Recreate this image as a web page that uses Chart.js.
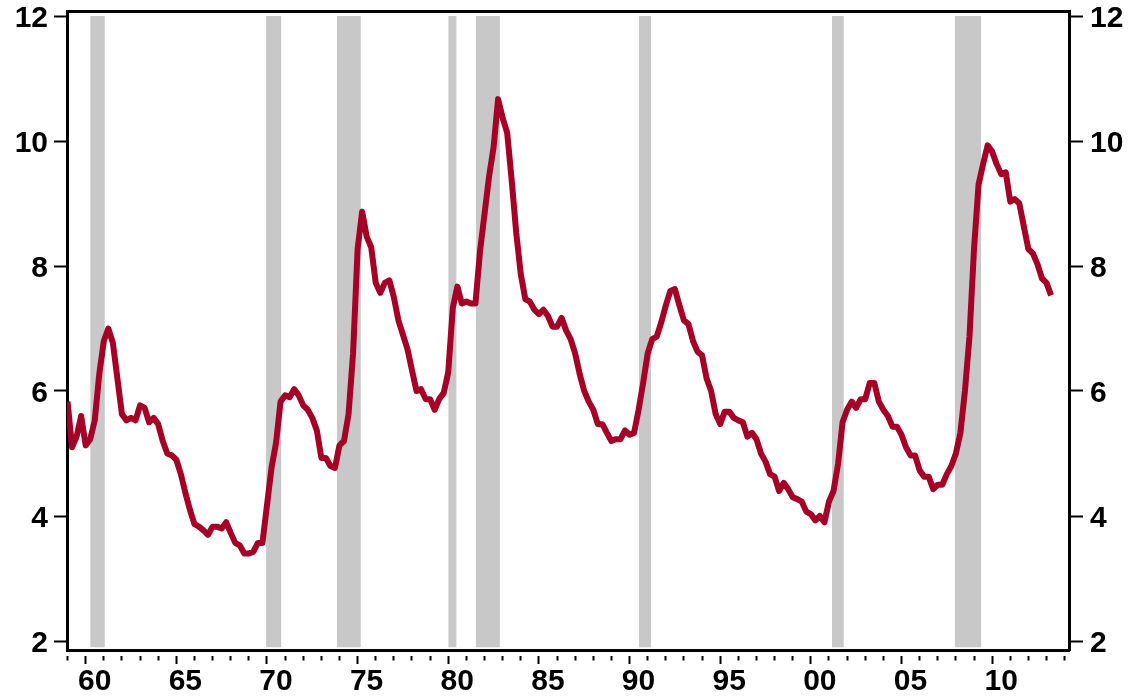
<!DOCTYPE html>
<html lang="en">
<head>
    <meta charset="UTF-8">
    <title>Unemployment Rate</title>
    <script src="https://cdn.jsdelivr.net/npm/chart.js"></script>
    <style>
        body { margin: 0; background: #fff; }
        .chart-container { position: relative; width: 1128px; height: 699px; }
    </style>
</head>
<body>
    <div class="chart-container">
        <canvas id="rateChart"></canvas>
    </div>

    <script>
        // quarterly unemployment rate, %, first quarter of 1959 onwards
        const firstYear = 1959;
        const rate1959 = [5.83, 5.10, 5.27, 5.60];
        const rate1960s = [
            5.13, 5.23, 5.53, 6.27,  6.80, 7.00, 6.77, 6.20,
            5.63, 5.53, 5.57, 5.53,  5.77, 5.73, 5.50, 5.57,
            5.47, 5.20, 5.00, 4.97,  4.90, 4.67, 4.37, 4.10,
            3.87, 3.83, 3.77, 3.70,  3.83, 3.83, 3.80, 3.90,
            3.73, 3.57, 3.53, 3.40,  3.40, 3.43, 3.57, 3.57
        ];
        const rate1970s = [
            4.17, 4.77, 5.17, 5.83,  5.93, 5.90, 6.03, 5.93,
            5.77, 5.70, 5.57, 5.37,  4.93, 4.93, 4.80, 4.77,
            5.13, 5.20, 5.63, 6.60,  8.27, 8.87, 8.47, 8.30,
            7.73, 7.57, 7.73, 7.77,  7.50, 7.13, 6.90, 6.67,
            6.33, 6.00, 6.03, 5.87,  5.87, 5.70, 5.87, 5.97
        ];
        const rate1980s = [
            6.30, 7.33, 7.67, 7.40,  7.43, 7.40, 7.40, 8.23,
            8.83, 9.43, 9.90, 10.67, 10.37, 10.13, 9.37, 8.53,
            7.87, 7.47, 7.43, 7.30,  7.23, 7.30, 7.20, 7.03,
            7.03, 7.17, 6.97, 6.83,  6.60, 6.27, 6.00, 5.83,
            5.70, 5.47, 5.47, 5.33,  5.20, 5.23, 5.23, 5.37
        ];
        const rate1990s = [
            5.30, 5.33, 5.70, 6.13,  6.60, 6.83, 6.87, 7.10,
            7.37, 7.60, 7.63, 7.37,  7.13, 7.07, 6.80, 6.63,
            6.57, 6.20, 6.00, 5.63,  5.47, 5.67, 5.67, 5.57,
            5.53, 5.50, 5.27, 5.33,  5.23, 5.00, 4.87, 4.67,
            4.63, 4.40, 4.53, 4.43,  4.30, 4.27, 4.23, 4.07
        ];
        const rate2000s = [
            4.03, 3.93, 4.00, 3.90,  4.23, 4.40, 4.83, 5.50,
            5.70, 5.83, 5.73, 5.87,  5.87, 6.13, 6.13, 5.83,
            5.70, 5.60, 5.43, 5.43,  5.30, 5.10, 4.97, 4.97,
            4.73, 4.63, 4.63, 4.43,  4.50, 4.50, 4.67, 4.80,
            5.00, 5.33, 6.00, 6.87,  8.27, 9.30, 9.63, 9.93
        ];
        const rate2010s = [
            9.83, 9.63, 9.47, 9.50,  9.03, 9.07, 9.00, 8.63,
            8.27, 8.20, 8.03, 7.80,  7.73, 7.53
        ];

        // recession periods (decimal years)
        const recessionStart = [1960.25, 1969.95, 1973.85, 1980.0, 1981.52, 1990.52, 2001.16, 2007.94];
        const recessionEnd   = [1961.06, 1970.80, 1975.18, 1980.46, 1982.85, 1991.19, 2001.82, 2009.40];
        const shadeTop = 12.0;
        const shadeBottom = 1.9;

        const yTicks = [2, 4, 6, 8, 10, 12];
        const labelYears = [1960, 1965, 1970, 1975, 1980, 1985, 1990, 1995, 2000, 2005, 2010];
        const tickYears = [];
        for (let y = 1959; y <= 2014; y++) tickYears.push(y);

        const rates = [].concat(rate1959, rate1960s, rate1970s, rate1980s, rate1990s, rate2000s, rate2010s);
        const rateData = rates.map((v, i) => ({ x: firstYear + i / 4, y: v }));

        const xMin = 1958.97, xMax = 2014.24;
        const yMin = 1.856, yMax = 12.08;

        const recessionSets = recessionStart.map((s, i) => ({
            data: [{ x: s, y: shadeTop }, { x: recessionEnd[i], y: shadeTop }],
            borderWidth: 0,
            borderColor: 'rgba(0,0,0,0)',
            backgroundColor: '#c8c8c8',
            fill: { value: shadeBottom },
            pointRadius: 0
        }));

        const labelFont = { family: '"Liberation Sans", Arial, sans-serif', size: 30, weight: 'bold' };
        const setYTicks = s => { s.ticks = yTicks.map(v => ({ value: v })); };

        const ctx = document.getElementById('rateChart').getContext('2d');
        new Chart(ctx, {
            type: 'line',
            data: {
                datasets: [{
                    data: rateData,
                    borderColor: '#a50026',
                    borderWidth: 6,
                    borderJoinStyle: 'round',
                    pointRadius: 0,
                    tension: 0,
                    fill: false
                }].concat(recessionSets)
            },
            options: {
                responsive: true,
                maintainAspectRatio: false,
                animation: false,
                layout: { padding: { top: 11, left: 0, right: 0, bottom: 0 } },
                plugins: { legend: { display: false }, tooltip: { enabled: false } },
                scales: {
                    x: {
                        type: 'linear',
                        position: 'bottom',
                        min: xMin,
                        max: xMax,
                        afterBuildTicks: s => { s.ticks = tickYears.map(v => ({ value: v })); },
                        afterFit: s => { s.height = 49; s.paddingLeft = 0; s.paddingRight = 0; },
                        border: { color: '#000', width: 3 },
                        grid: {
                            drawOnChartArea: false,
                            tickLength: 14,
                            tickWidth: 2,
                            tickColor: '#000',
                            tickBorderDash: c => (c.tick && c.tick.value % 5 === 0) ? [0, 4, 10, 40] : [0, 4, 4.5, 40]
                        },
                        ticks: {
                            autoSkip: false,
                            maxRotation: 0,
                            padding: 0,
                            labelOffset: 9,
                            color: '#000',
                            font: labelFont,
                            callback: v => labelYears.includes(v) ? String(v % 100).padStart(2, '0') : ''
                        }
                    },
                    xTop: {
                        type: 'linear',
                        position: 'top',
                        min: xMin,
                        max: xMax,
                        afterFit: s => { s.height = 0; },
                        border: { color: '#000', width: 3 },
                        grid: { display: false },
                        ticks: { display: false }
                    },
                    y: {
                        position: 'left',
                        min: yMin,
                        max: yMax,
                        afterBuildTicks: setYTicks,
                        afterFit: s => { s.width = 67; s.paddingTop = 0; s.paddingBottom = 0; },
                        border: { color: '#000', width: 3 },
                        grid: { drawOnChartArea: false, tickLength: 13, tickWidth: 2, tickColor: '#000' },
                        ticks: { padding: 6, labelOffset: 3, color: '#000', font: labelFont }
                    },
                    y2: {
                        position: 'right',
                        min: yMin,
                        max: yMax,
                        afterBuildTicks: setYTicks,
                        afterFit: s => { s.width = 59; s.paddingTop = 0; s.paddingBottom = 0; },
                        border: { color: '#000', width: 3 },
                        grid: { drawOnChartArea: false, tickLength: 14, tickWidth: 2, tickColor: '#000' },
                        ticks: { padding: 7, labelOffset: 3, color: '#000', font: labelFont }
                    }
                }
            }
        });
    </script>
</body>
</html>
